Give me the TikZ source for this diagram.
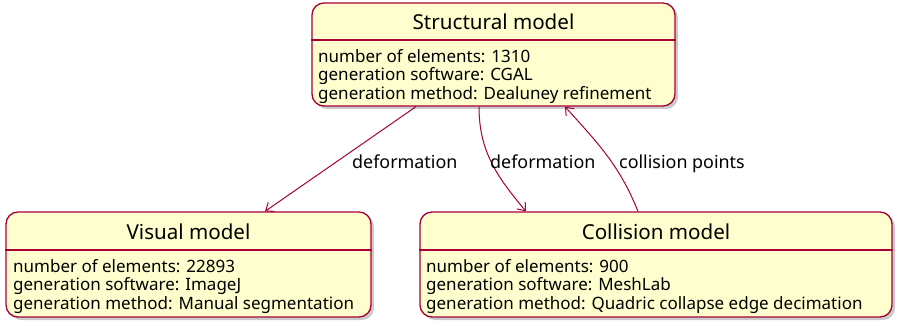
\documentclass[tikz,border=0pt]{standalone}
\usepackage{fontspec}
\setmainfont{Noto Sans}
\usetikzlibrary{arrows.meta,shadows,calc}
\definecolor{pfill}{HTML}{FEFECE}
\definecolor{pline}{HTML}{A80036}
\tikzset{
  classbox/.style={draw=pline, fill=pfill, line width=1.3pt, rounded corners=12pt,
    drop shadow={shadow xshift=3pt, shadow yshift=-3pt, opacity=0.35, fill=black!60},
    inner sep=0pt},
  title/.style={font=\fontsize{20.6}{24}\selectfont, inner sep=0pt, anchor=base},
  body/.style={font=\fontsize{17}{18.6}\selectfont, align=left, inner sep=0pt, anchor=north west},
  divider/.style={draw=pline, line width=1.3pt},
  conn/.style={draw=pline, line width=1pt, -{Straight Barb[length=7pt,width=11pt,line width=1pt]}},
  elabel/.style={font=\fontsize{17.9}{20}\selectfont, inner sep=0pt, anchor=base west}
}
\begin{document}
\begin{tikzpicture}[x=1pt,y=-1pt]
\useasboundingbox (0,0) rectangle (897,326);
% boxes
\node[classbox, minimum width=363pt, minimum height=103pt] (S) at (493.5,54.5) {};
\node[classbox, minimum width=365pt, minimum height=105pt] (V) at (188.5,264.5) {};
\node[classbox, minimum width=472pt, minimum height=105pt] (C) at (656,264.5) {};
% dividers
\draw[divider] (S.west |- 0,40) -- (S.east |- 0,40);
\draw[divider] (V.west |- 0,250) -- (V.east |- 0,250);
\draw[divider] (C.west |- 0,250) -- (C.east |- 0,250);
% titles
\node[title] (St) at (493.5,29.5) {Structural model};
\node[title] (Vt) at (188.5,239.5) {Visual model};
\node[title] (Ct) at (656,239.5) {Collision model};
% bodies
\node[body] (Sb) at (318,49) {number of elements: 1310\\generation software: CGAL\\generation method: Dealuney refinement};
\node[body] (Vb) at (13,259) {number of elements: 22893\\generation software: ImageJ\\generation method: Manual segmentation};
\node[body] (Cb) at (426,259) {number of elements: 900\\generation software: MeshLab\\generation method: Quadric collapse edge decimation};
% connectors
\draw[conn] ([xshift=-77.5pt]S.south) -- ([xshift=76.5pt]V.north);
\draw[conn] ([xshift=-14.5pt]S.south) to[out=-90,in=130] ([xshift=-130pt]C.north);
\draw[conn] ([xshift=-18pt]C.north) to[out=112,in=-48] ([xshift=71.5pt]S.south);
% labels
\node[elabel] (l1) at (352,168) {deformation};
\node[elabel] (l2) at (490,168) {deformation};
\node[elabel] (l3) at (619,168) {collision points};
\end{tikzpicture}
\end{document}
